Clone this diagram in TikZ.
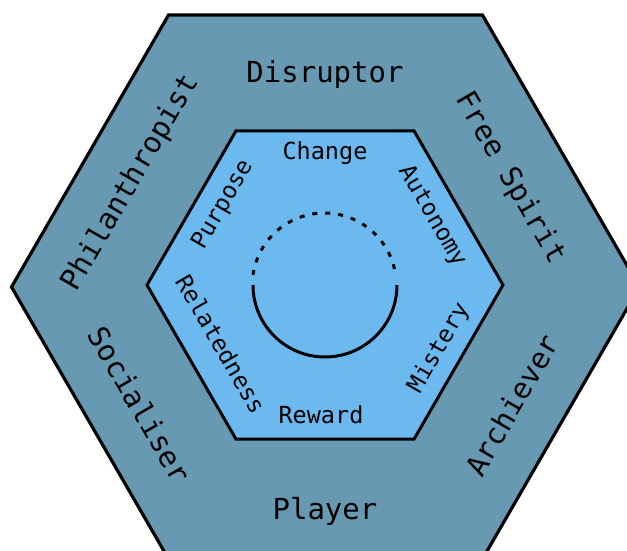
\documentclass[tikz,border=0pt]{standalone}
\usepackage{fontspec}
\setmonofont{DejaVu Sans Mono}
\definecolor{outerblue}{HTML}{6899B2}
\definecolor{innerblue}{HTML}{6BB9EE}
\begin{document}
\begin{tikzpicture}[x=1pt,y=-1pt,
  ring/.style={draw=black,line width=3.2pt,line join=miter},
  outerlbl/.style={font=\ttfamily\fontsize{29}{29}\selectfont,inner sep=0pt},
  innerlbl/.style={font=\ttfamily\fontsize{23.5}{23.5}\selectfont,inner sep=0pt}]
\useasboundingbox (0,0) rectangle (627,551);
\clip (0,0) rectangle (627,551);
% outer hexagon
\begin{scope}[shift={(325.5,287)}]
\filldraw[ring,fill=outerblue] (0:314) -- (60:314) -- (120:314) -- (180:314) -- (240:314) -- (300:314) -- cycle;
\end{scope}
% inner hexagon
\begin{scope}[shift={(325,285)}]
\filldraw[ring,fill=innerblue,line width=3pt] (0:178) -- (60:178) -- (120:178) -- (180:178) -- (240:178) -- (300:178) -- cycle;
% core circle
\draw[line width=3pt] (180:72) arc[start angle=180,end angle=0,radius=72];
\draw[line width=3pt,dash pattern=on 5pt off 8pt] (180:72) ++(0,-10) arc[start angle=188,end angle=352,radius=72];
\end{scope}
% player types
\node[outerlbl] (disruptor) at (325,75) {Disruptor};
\node[outerlbl] (player) at (325,511) {Player};
\node[outerlbl,rotate=60] (philanthropist) at (131,183) {Philanthropist};
\node[outerlbl,rotate=-60] (freespirit) at (510,178) {Free Spirit};
\node[outerlbl,rotate=-60] (socialiser) at (140,405) {Socialiser};
\node[outerlbl,rotate=60] (archiever) at (512,405) {Archiever};
% motivations
\node[innerlbl] (change) at (325,153) {Change};
\node[innerlbl] (reward) at (321,415) {Reward};
\node[innerlbl,rotate=60] (purpose) at (223,205) {Purpose};
\node[innerlbl,rotate=-60] (autonomy) at (432,216) {Autonomy};
\node[innerlbl,rotate=-60] (relatedness) at (221,344) {Relatedness};
\node[innerlbl,rotate=60] (mistery) at (439,348) {Mistery};
\end{tikzpicture}
\end{document}
